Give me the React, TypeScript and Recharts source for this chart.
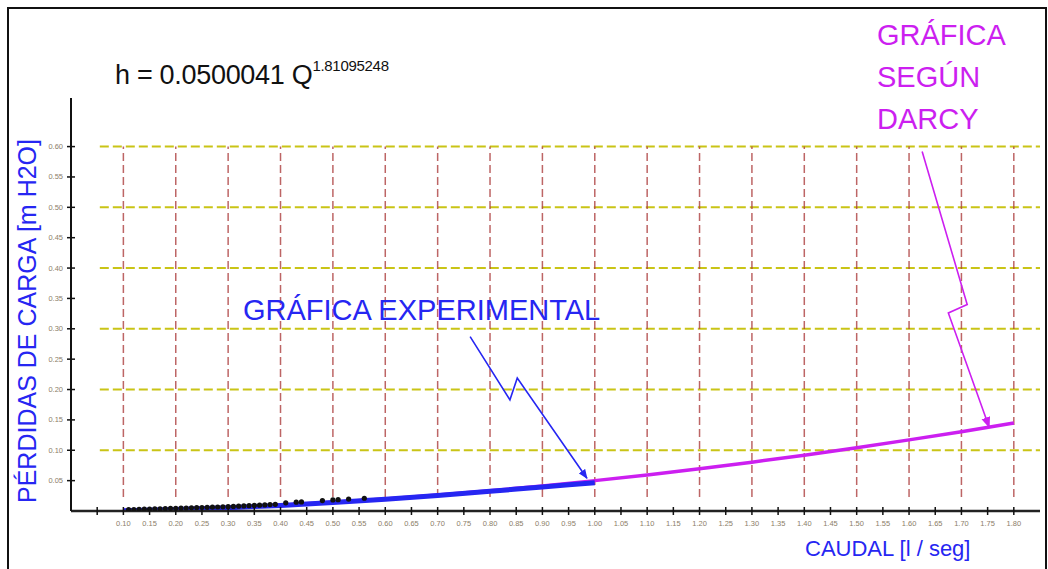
import React from "react";
import {
  ComposedChart,
  Line,
  Scatter,
  XAxis,
  YAxis,
  ReferenceLine,
} from "recharts";

// Darcy curve, h in m H2O against Q in l/seg
const caudalDarcy = [0.1, 0.2, 0.3, 0.4, 0.5, 0.6, 0.7, 0.8, 0.9, 1.0, 1.1, 1.2, 1.3, 1.4, 1.5, 1.6, 1.7, 1.8];
const perdidaDarcy = [0.0008, 0.0027, 0.0057, 0.0095, 0.0143, 0.0198, 0.0262, 0.0334, 0.0413, 0.05, 0.0594, 0.0696, 0.0804, 0.0919, 0.1042, 0.1171, 0.1306, 0.1449];

// experimental fit line
const caudalExp = [0.1, 0.2, 0.3, 0.4, 0.5, 0.6, 0.7, 0.8, 0.9, 1.0];
const perdidaExp = [0.0005, 0.0025, 0.0055, 0.0092, 0.0138, 0.0192, 0.0255, 0.0325, 0.0395, 0.0465];

// measured points
const caudalMedido = [
  0.11, 0.12, 0.13, 0.14, 0.15, 0.16, 0.17, 0.18, 0.19, 0.2, 0.21, 0.22, 0.23, 0.24, 0.25,
  0.26, 0.27, 0.28, 0.29, 0.3, 0.31, 0.32, 0.33, 0.34, 0.35, 0.36, 0.37, 0.38, 0.39,
  0.41, 0.43, 0.44, 0.48, 0.5, 0.51, 0.53, 0.56,
];
const perdidaMedida = [
  0.0022, 0.0024, 0.0027, 0.003, 0.0032, 0.0034, 0.0036, 0.0039, 0.0042, 0.0044, 0.0047, 0.0049, 0.0052, 0.0055, 0.0058,
  0.006, 0.0063, 0.0066, 0.0069, 0.0072, 0.0076, 0.008, 0.0084, 0.0088, 0.0092, 0.0096, 0.01, 0.0105, 0.011,
  0.0135, 0.0145, 0.015, 0.0172, 0.0182, 0.0186, 0.0196, 0.021,
];

// callout arrows (data units)
const flechaExpQ = [0.762, 0.838, 0.852, 0.985];
const flechaExpH = [0.287, 0.183, 0.219, 0.054];
const flechaDarcyQ = [1.625, 1.711, 1.675, 1.753];
const flechaDarcyH = [0.592, 0.34, 0.326, 0.138];

const xTicks = [
  0.05, 0.1, 0.15, 0.2, 0.25, 0.3, 0.35, 0.4, 0.45, 0.5, 0.55, 0.6, 0.65, 0.7, 0.75, 0.8, 0.85, 0.9,
  0.95, 1.0, 1.05, 1.1, 1.15, 1.2, 1.25, 1.3, 1.35, 1.4, 1.45, 1.5, 1.55, 1.6, 1.65, 1.7, 1.75, 1.8,
];
const yTicks = [0.05, 0.1, 0.15, 0.2, 0.25, 0.3, 0.35, 0.4, 0.45, 0.5, 0.55, 0.6];
const gridX = [0.1, 0.2, 0.3, 0.4, 0.5, 0.6, 0.7, 0.8, 0.9, 1.0, 1.1, 1.2, 1.3, 1.4, 1.5, 1.6, 1.7, 1.8];
const gridY = [0.1, 0.2, 0.3, 0.4, 0.5, 0.6];

const zip = (qs: number[], hs: number[]) => qs.map((q, i) => ({ q, h: hs[i] }));

const darcy = zip(caudalDarcy, perdidaDarcy);
const experimental = zip(caudalExp, perdidaExp);
const medidos = zip(caudalMedido, perdidaMedida);
const flechaExp = zip(flechaExpQ, flechaExpH);
const flechaDarcy = zip(flechaDarcyQ, flechaDarcyH);

const FONT = '"Liberation Sans", Arial, sans-serif';
const BLUE = "#2626f2";
const MAGENTA = "#cc1ff0";
const TICK_TEXT = "#8c7e68";

const XTick = (props: any) => {
  const { x, y, payload } = props;
  const v = payload.value as number;
  return (
    <g>
      <line x1={x} x2={x} y1={y - 4} y2={y + 4} stroke="#111" strokeWidth={1.5} />
      {v >= 0.1 && (
        <text x={x} y={y + 15} textAnchor="middle" fontSize={7.5} fill={TICK_TEXT} fontFamily={FONT}>
          {v.toFixed(2)}
        </text>
      )}
    </g>
  );
};

const YTick = (props: any) => {
  const { x, y, payload } = props;
  const v = payload.value as number;
  return (
    <g>
      <line x1={x - 4} x2={x + 4} y1={y} y2={y} stroke="#111" strokeWidth={1.5} />
      <text x={x - 8} y={y + 2.5} textAnchor="end" fontSize={7.5} fill={TICK_TEXT} fontFamily={FONT}>
        {v.toFixed(2)}
      </text>
    </g>
  );
};

const Punto = (props: any) => <circle cx={props.cx} cy={props.cy} r={2.6} fill="#111" />;

export default function App() {
  return (
    <div style={{ position: "absolute", left: 0, top: 0, width: 1048, height: 569, background: "#fff", overflow: "hidden", fontFamily: FONT }}>
      <svg width={0} height={0} style={{ position: "absolute" }}>
        <defs>
          <marker id="puntaAzul" viewBox="0 0 10 10" refX={9} refY={5} markerWidth={6} markerHeight={6} orient="auto">
            <path d="M0,1 L10,5 L0,9 z" fill={BLUE} />
          </marker>
          <marker id="puntaMagenta" viewBox="0 0 10 10" refX={9} refY={5} markerWidth={7} markerHeight={7} orient="auto">
            <path d="M0,1 L10,5 L0,9 z" fill={MAGENTA} />
          </marker>
        </defs>
      </svg>

      <div style={{ position: "absolute", left: 7, top: 7, width: 1036, height: 600, border: "2px solid #111" }} />

      <ComposedChart
        width={1048}
        height={569}
        margin={{ top: 98, right: 8, left: 41, bottom: 28 }}
        style={{ position: "absolute", left: 0, top: 0 }}
      >
        <XAxis
          type="number"
          dataKey="q"
          domain={[0, 1.85]}
          ticks={xTicks}
          interval={0}
          tick={<XTick />}
          tickLine={false}
          tickSize={0}
          tickMargin={0}
          height={30}
          axisLine={{ stroke: "#222", strokeWidth: 2.5 }}
          allowDataOverflow
        />
        <YAxis
          type="number"
          dataKey="h"
          domain={[0, 0.68]}
          ticks={yTicks}
          interval={0}
          tick={<YTick />}
          tickLine={false}
          tickSize={0}
          tickMargin={0}
          width={30}
          axisLine={{ stroke: "#111", strokeWidth: 2 }}
          allowDataOverflow
        />

        {gridY.map((v) => (
          <ReferenceLine
            key={"gy" + v}
            segment={[{ x: 0.055, y: v }, { x: 1.85, y: v }]}
            stroke="#c9c416"
            strokeWidth={2}
            strokeDasharray="9 4"
          />
        ))}
        {gridX.map((v) => (
          <ReferenceLine
            key={"gx" + v}
            segment={[{ x: v, y: 0.023 }, { x: v, y: 0.6 }]}
            stroke="#ad3f3f"
            strokeOpacity={0.8}
            strokeWidth={1.5}
            strokeDasharray="8 4"
          />
        ))}

        <Scatter data={medidos} shape={<Punto />} isAnimationActive={false} />
        <Line
          data={darcy}
          dataKey="h"
          type="monotone"
          stroke={MAGENTA}
          strokeWidth={3.5}
          dot={false}
          activeDot={false}
          isAnimationActive={false}
        />
        <Line
          data={experimental}
          dataKey="h"
          type="monotone"
          stroke={BLUE}
          strokeWidth={5}
          dot={false}
          activeDot={false}
          isAnimationActive={false}
        />
        <Line
          data={flechaExp}
          dataKey="h"
          type="linear"
          stroke={BLUE}
          strokeWidth={1.6}
          dot={false}
          activeDot={false}
          markerEnd="url(#puntaAzul)"
          isAnimationActive={false}
        />
        <Line
          data={flechaDarcy}
          dataKey="h"
          type="linear"
          stroke={MAGENTA}
          strokeWidth={1.6}
          dot={false}
          activeDot={false}
          markerEnd="url(#puntaMagenta)"
          isAnimationActive={false}
        />
      </ComposedChart>

      <div style={{ position: "absolute", left: 115, top: 60, fontSize: 27, color: "#111", whiteSpace: "nowrap", letterSpacing: -0.3 }}>
        h = 0.0500041 Q<sup style={{ fontSize: 15, position: "relative", top: -3 }}>1.81095248</sup>
      </div>

      <div
        style={{
          position: "absolute",
          left: 27,
          top: 321,
          transform: "translate(-50%, -50%) rotate(-90deg)",
          fontSize: 25,
          color: BLUE,
          whiteSpace: "nowrap",
        }}
      >
        PÉRDIDAS DE CARGA [m H2O]
      </div>

      <div style={{ position: "absolute", left: 805, top: 536, fontSize: 22, color: BLUE, whiteSpace: "nowrap" }}>
        CAUDAL [l / seg]
      </div>

      <div style={{ position: "absolute", left: 243, top: 294, fontSize: 29, color: BLUE, whiteSpace: "nowrap" }}>
        GRÁFICA EXPERIMENTAL
      </div>

      <div style={{ position: "absolute", left: 877, top: 14, fontSize: 29, color: MAGENTA, lineHeight: "42px", whiteSpace: "nowrap" }}>
        GRÁFICA
        <br />
        SEGÚN
        <br />
        DARCY
      </div>
    </div>
  );
}
